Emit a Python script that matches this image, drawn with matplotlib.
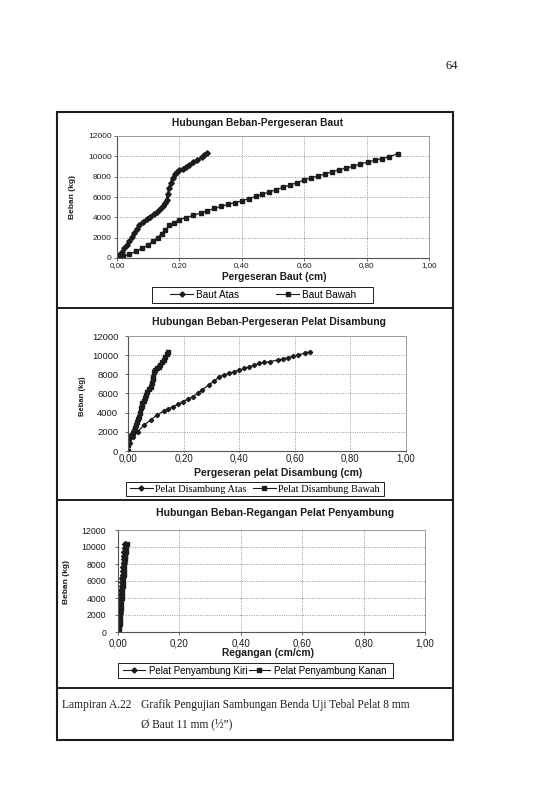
import matplotlib
matplotlib.use("Agg")
import matplotlib.pyplot as plt
from matplotlib.lines import Line2D
from matplotlib.patches import Rectangle

# ---------------- data ----------------
y_ticks = [0, 2000, 4000, 6000, 8000, 10000, 12000]
y_ticklabels = ["0", "2000", "4000", "6000", "8000", "10000", "12000"]
x_ticks = [0.0, 0.2, 0.4, 0.6, 0.8, 1.0]
x_ticklabels = ["0,00", "0,20", "0,40", "0,60", "0,80", "1,00"]

# Chart 1: Hubungan Beban-Pergeseran Baut
baut_atas_x = [0.000, 0.008, 0.016, 0.024, 0.032, 0.040, 0.048, 0.056, 0.063, 0.072,
               0.084, 0.095, 0.106, 0.117, 0.127, 0.138, 0.149, 0.155, 0.159, 0.163,
               0.167, 0.172, 0.178, 0.185, 0.192, 0.200, 0.210, 0.220, 0.232, 0.245,
               0.258, 0.272, 0.280, 0.288]
baut_atas_y = [0, 300, 600, 950, 1300, 1650, 2050, 2500, 2900, 3200,
               3570, 3830, 4070, 4320, 4570, 4800, 5070, 5400, 5730, 6300,
               6900, 7400, 7850, 8250, 8500, 8650, 8800, 8950, 9150, 9400,
               9650, 9900, 10100, 10300]
baut_bawah_x = [0.000, 0.020, 0.040, 0.060, 0.080, 0.100, 0.115, 0.130, 0.143, 0.155,
                0.168, 0.182, 0.200, 0.222, 0.245, 0.268, 0.290, 0.312, 0.334, 0.356,
                0.378, 0.400, 0.422, 0.444, 0.466, 0.488, 0.510, 0.532, 0.555, 0.578,
                0.600, 0.622, 0.645, 0.668, 0.690, 0.712, 0.735, 0.758, 0.780, 0.803,
                0.826, 0.849, 0.872, 0.900]
baut_bawah_y = [0, 170, 380, 650, 950, 1300, 1650, 2000, 2400, 2800,
                3200, 3480, 3780, 3980, 4200, 4420, 4650, 4870, 5080, 5280,
                5450, 5620, 5830, 6050, 6270, 6500, 6720, 6950, 7180, 7420,
                7680, 7880, 8080, 8280, 8480, 8680, 8850, 9030, 9250, 9430,
                9600, 9780, 9950, 10270]

# Chart 2: Hubungan Beban-Pergeseran Pelat Disambung
pd_atas_x = [0.000, 0.006, 0.017, 0.035, 0.058, 0.081, 0.105, 0.128, 0.145, 0.163,
             0.180, 0.198, 0.215, 0.233, 0.250, 0.267, 0.290, 0.310, 0.329, 0.347,
             0.365, 0.383, 0.400, 0.418, 0.437, 0.455, 0.473, 0.491, 0.509, 0.539,
             0.557, 0.575, 0.593, 0.611, 0.635, 0.655]
pd_atas_y = [0, 800, 1500, 2020, 2710, 3230, 3760, 4170, 4400, 4630,
             4880, 5150, 5400, 5670, 6000, 6370, 6890, 7300, 7760, 7950,
             8100, 8280, 8450, 8620, 8800, 8980, 9150, 9240, 9320, 9500,
             9620, 9740, 9880, 10020, 10200, 10370]
pd_bawah_x = [0.000, 0.000, 0.000, 0.004, 0.009, 0.013, 0.017, 0.021, 0.025, 0.029,
              0.033, 0.037, 0.041, 0.044, 0.047, 0.050, 0.052, 0.056, 0.060, 0.064,
              0.069, 0.075, 0.081, 0.085, 0.089, 0.091, 0.093, 0.098, 0.104, 0.110,
              0.116, 0.122, 0.128, 0.134, 0.140, 0.145]
pd_bawah_y = [0, 600, 1150, 1350, 1550, 1700, 1840, 2100, 2400, 2710,
              3000, 3300, 3580, 4000, 4450, 4700, 4970, 5250, 5550, 5840,
              6150, 6450, 6710, 7100, 7500, 7760, 8280, 8450, 8620, 8800,
              9000, 9250, 9500, 9800, 10100, 10370]

# Chart 3: Hubungan Beban-Regangan Pelat Penyambung
pp_kiri_x = [0.000, 0.001, 0.002, 0.003, 0.004, 0.005, 0.006, 0.007, 0.008, 0.009,
             0.010, 0.011, 0.012, 0.013, 0.014, 0.015, 0.016, 0.017, 0.018, 0.019,
             0.020, 0.021, 0.022, 0.023]
pp_kiri_y = [0, 450, 900, 1350, 1800, 2250, 2700, 3150, 3600, 4050,
             4500, 4950, 5400, 5850, 6300, 6750, 7200, 7650, 8100, 8550,
             9000, 9450, 9900, 10300]
pp_kanan_x = [0.003, 0.004, 0.005, 0.006, 0.007, 0.008, 0.009, 0.010, 0.011, 0.012,
              0.013, 0.014, 0.015, 0.016, 0.017, 0.018, 0.019, 0.020, 0.021, 0.022,
              0.024, 0.025, 0.026, 0.028]
pp_kanan_y = [0, 450, 900, 1350, 1800, 2250, 2700, 3150, 3600, 4050,
              4500, 4950, 5400, 5850, 6300, 6750, 7200, 7650, 8100, 8550,
              9000, 9450, 9900, 10300]

# ---------------- layout helpers ----------------
W, H = 536, 805
fig = plt.figure(figsize=(W / 100, H / 100), dpi=100)
fig.patch.set_facecolor("white")

SANS = ["Liberation Sans", "DejaVu Sans"]
SERIF = ["Liberation Serif", "DejaVu Serif"]
INK = "#1c1c1c"


def fx(x):
    return x / W


def fy(y):
    return 1 - y / H


def box(l, t, r, b):
    return [fx(l), fy(b), (r - l) / W, (b - t) / H]


def hline(y, x0, x1, lw=1.4):
    fig.add_artist(Line2D([fx(x0), fx(x1)], [fy(y), fy(y)], color=INK, lw=lw))


def frame_box(l, t, r, b):
    fig.add_artist(Rectangle((fx(l), fy(b)), (r - l) / W, (b - t) / H,
                             fill=False, edgecolor=INK, lw=0.7))


def setup_axes(rect, ytick_size, xtick_size, ypad, xpad, xlen):
    ax = fig.add_axes(rect)
    ax.set_xlim(0, 1.0)
    ax.set_ylim(0, 12000)
    ax.set_xticks(x_ticks)
    ax.set_xticklabels(x_ticklabels, family=SANS, fontsize=xtick_size, color=INK)
    ax.set_yticks(y_ticks)
    ax.set_yticklabels(y_ticklabels, family=SANS, fontsize=ytick_size, color=INK)
    ax.grid(True, linestyle=(0, (1.2, 1.6)), color="#8a8a8a", linewidth=0.6)
    for s in ["top", "right"]:
        ax.spines[s].set_color("#9a9a9a")
        ax.spines[s].set_linewidth(0.7)
    for s in ["left", "bottom"]:
        ax.spines[s].set_color("#555555")
        ax.spines[s].set_linewidth(0.8)
    ax.tick_params(axis="y", direction="out", length=2.5, width=0.6,
                   color="#555555", pad=ypad)
    ax.tick_params(axis="x", direction="out", length=xlen, width=0.6,
                   color="#555555", pad=xpad)
    return ax


def handles(m1, m2):
    return [Line2D([], [], color=INK, lw=0.8, marker=m1, ms=2.6),
            Line2D([], [], color=INK, lw=0.8, marker=m2, ms=2.6)]


# ---------------- outer frame ----------------
fig.add_artist(Rectangle((fx(57), fy(740)), (453 - 57) / W, (740 - 112) / H,
                         fill=False, edgecolor=INK, lw=1.5))
hline(308, 57, 453)
hline(500, 57, 453)
hline(688, 57, 453)

fig.text(fx(458), fy(66), "64", family=SERIF, fontsize=9, ha="right", va="center", color=INK)

# ---------------- chart 1 ----------------
ax1 = setup_axes(box(117, 136, 429, 258), 6.0, 5.8, 1.2, 1.2, 2.0)
ax1.plot(baut_atas_x, baut_atas_y, color=INK, lw=1.6, marker="D", ms=2.8)
ax1.plot(baut_bawah_x, baut_bawah_y, color=INK, lw=0.9, marker="s", ms=2.3)
fig.text(fx(257), fy(123), "Hubungan Beban-Pergeseran Baut", family=SANS,
         fontsize=7.4, fontweight="bold", ha="center", va="center", color=INK)
fig.text(fx(274), fy(276.5), "Pergeseran Baut (cm)", family=SANS,
         fontsize=7.3, fontweight="bold", ha="center", va="center", color=INK)
fig.text(fx(73), fy(197), "Beban (kg)", family=SANS, fontsize=6,
         fontweight="bold", rotation=90, ha="center", va="center", color=INK)
frame_box(152, 287, 373, 303)
ax1.legend(handles("D", "s"), ["Baut Atas", "Baut Bawah"], loc="center",
           bbox_to_anchor=(fx(263.5), fy(295)), bbox_transform=fig.transFigure,
           ncol=2, frameon=False, prop={"family": SANS, "size": 7.2},
           handlelength=2.3, columnspacing=3.7, borderpad=0, handletextpad=0.3,
           borderaxespad=0)

# ---------------- chart 2 ----------------
ax2 = setup_axes(box(128, 336, 406, 451), 6.8, 6.9, 4.5, 1.0, 1.0)
ax2.plot(pd_atas_x, pd_atas_y, color=INK, lw=0.9, marker="D", ms=2.2)
ax2.plot(pd_bawah_x, pd_bawah_y, color=INK, lw=2.2, marker="s", ms=3.2)
fig.text(fx(269), fy(322), "Hubungan Beban-Pergeseran Pelat Disambung", family=SANS,
         fontsize=7.5, fontweight="bold", ha="center", va="center", color=INK)
fig.text(fx(278), fy(473), "Pergeseran pelat Disambung (cm)", family=SANS,
         fontsize=7.5, fontweight="bold", ha="center", va="center", color=INK)
fig.text(fx(83), fy(396), "Beban (kg)", family=SANS, fontsize=5.5,
         fontweight="bold", rotation=90, ha="center", va="center", color=INK)
frame_box(126, 482, 384, 496)
ax2.legend(handles("D", "s"), ["Pelat Disambung Atas", "Pelat Disambung Bawah"],
           loc="center", bbox_to_anchor=(fx(255), fy(489)),
           bbox_transform=fig.transFigure, ncol=2, frameon=False,
           prop={"family": SERIF, "size": 7.4}, handlelength=2.2,
           columnspacing=0.6, borderpad=0, handletextpad=0.25, borderaxespad=0)

# ---------------- chart 3 ----------------
ax3 = setup_axes(box(118, 530, 425, 632), 6.3, 7.0, 6.0, 2.5, 2.5)
ax3.plot(pp_kiri_x, pp_kiri_y, color=INK, lw=1.6, marker="D", ms=3.0)
ax3.plot(pp_kanan_x, pp_kanan_y, color=INK, lw=1.6, marker="s", ms=3.2)
fig.text(fx(275), fy(513), "Hubungan Beban-Regangan Pelat Penyambung", family=SANS,
         fontsize=7.6, fontweight="bold", ha="center", va="center", color=INK)
fig.text(fx(268), fy(653), "Regangan (cm/cm)", family=SANS,
         fontsize=7.4, fontweight="bold", ha="center", va="center", color=INK)
fig.text(fx(67), fy(582), "Beban (kg)", family=SANS, fontsize=6,
         fontweight="bold", rotation=90, ha="center", va="center", color=INK)
frame_box(118, 663, 393, 678)
ax3.legend(handles("D", "s"), ["Pelat Penyambung Kiri", "Pelat Penyambung Kanan"],
           loc="center", bbox_to_anchor=(fx(255), fy(670.5)),
           bbox_transform=fig.transFigure, ncol=2, frameon=False,
           prop={"family": SANS, "size": 7.0}, handlelength=2.2,
           columnspacing=0.15, borderpad=0, handletextpad=0.4, borderaxespad=0)

# ---------------- caption ----------------
fig.text(fx(62), fy(705), "Lampiran A.22", family=SERIF, fontsize=8.3,
         ha="left", va="center", color=INK)
fig.text(fx(141), fy(705), "Grafik Pengujian Sambungan Benda Uji Tebal Pelat 8 mm",
         family=SERIF, fontsize=8.3, ha="left", va="center", color=INK)
fig.text(fx(141), fy(724), "\u00d8 Baut 11 mm (\u00bd\u201d)", family=SERIF,
         fontsize=8.3, ha="left", va="center", color=INK)

fig.savefig("out.png", dpi=100, facecolor="white")
